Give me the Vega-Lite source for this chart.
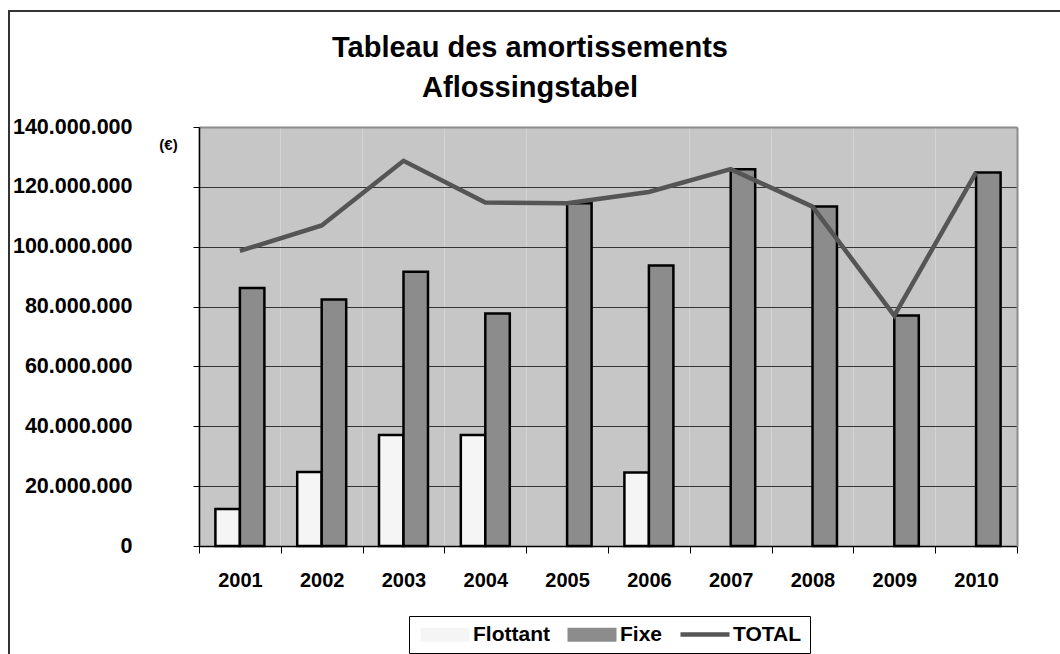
{
  "$schema": "https://vega.github.io/schema/vega-lite/v6.json",
  "width": 1100,
  "height": 651,
  "autosize": {"type": "none"},
  "padding": {"left": 9, "top": 11, "right": -49, "bottom": -8},
  "background": "white",
  "title": {
    "text": ["Tableau des amortissements", "Aflossingstabel"],
    "font": "Liberation Sans",
    "fontSize": 29,
    "fontWeight": "bold",
    "color": "black",
    "anchor": "middle",
    "frame": "group",
    "dx": -29,
    "offset": -114.5,
    "baseline": "alphabetic",
    "lineHeight": 39.5
  },
  "datasets": {
    "bars": [
      {"year": "2001", "series": "Flottant", "value": 12400000},
      {"year": "2001", "series": "Fixe", "value": 86200000},
      {"year": "2002", "series": "Flottant", "value": 24700000},
      {"year": "2002", "series": "Fixe", "value": 82400000},
      {"year": "2003", "series": "Flottant", "value": 37100000},
      {"year": "2003", "series": "Fixe", "value": 91600000},
      {"year": "2004", "series": "Flottant", "value": 37100000},
      {"year": "2004", "series": "Fixe", "value": 77700000},
      {"year": "2005", "series": "Flottant", "value": 0},
      {"year": "2005", "series": "Fixe", "value": 114500000},
      {"year": "2006", "series": "Flottant", "value": 24600000},
      {"year": "2006", "series": "Fixe", "value": 93700000},
      {"year": "2007", "series": "Flottant", "value": 0},
      {"year": "2007", "series": "Fixe", "value": 125900000},
      {"year": "2008", "series": "Flottant", "value": 0},
      {"year": "2008", "series": "Fixe", "value": 113400000},
      {"year": "2009", "series": "Flottant", "value": 0},
      {"year": "2009", "series": "Fixe", "value": 77000000},
      {"year": "2010", "series": "Flottant", "value": 0},
      {"year": "2010", "series": "Fixe", "value": 124800000}
    ],
    "totals": [
      {"year": "2001", "total": 98600000},
      {"year": "2002", "total": 107100000},
      {"year": "2003", "total": 128700000},
      {"year": "2004", "total": 114800000},
      {"year": "2005", "total": 114500000},
      {"year": "2006", "total": 118300000},
      {"year": "2007", "total": 125900000},
      {"year": "2008", "total": 113400000},
      {"year": "2009", "total": 77000000},
      {"year": "2010", "total": 124800000}
    ]
  },
  "layer": [
    {
      "data": {"name": "bars"},
      "transform": [{"filter": "datum.value > 0"}],
      "mark": {"type": "bar", "stroke": "black", "strokeWidth": 2.5},
      "encoding": {
        "x": {
          "field": "year",
          "type": "nominal",
          "scale": {"range": [190, 1008], "paddingInner": 0, "paddingOuter": 0},
          "axis": {
            "orient": "bottom",
            "offset": -116,
            "tickBand": "extent",
            "grid": false,
            "tickSize": 7,
            "tickColor": "black",
            "tickWidth": 1,
            "domainColor": "black",
            "domainWidth": 1.5,
            "labelAngle": 0,
            "labelFontSize": 20,
            "labelFontWeight": "bold",
            "labelColor": "black",
            "labelPadding": 17,
            "title": null
          }
        },
        "xOffset": {
          "field": "series",
          "type": "nominal",
          "scale": {"domain": ["Flottant", "Fixe"], "paddingInner": 0, "paddingOuter": 0.67}
        },
        "y": {
          "field": "value",
          "type": "quantitative",
          "scale": {"domain": [0, 140000000], "range": [535, 116], "nice": false},
          "axis": {
            "orient": "left",
            "offset": -190,
            "values": [0, 20000000, 40000000, 60000000, 80000000, 100000000, 120000000, 140000000],
            "format": ",.0f",
            "grid": true,
            "gridColor": {"condition": {"test": "datum.value >= 140000000", "value": "#8c8c8c"}, "value": "#333333"},
            "gridWidth": {"condition": {"test": "datum.value >= 140000000", "value": 2}, "value": 1},
            "tickSize": 6,
            "tickColor": "black",
            "domainColor": "black",
            "domainWidth": 1.5,
            "labelFontSize": 21.5,
            "labelFontWeight": "bold",
            "labelColor": "black",
            "labelPadding": 61,
            "labelFlush": false,
            "title": "(€)",
            "titleAngle": 0,
            "titleX": -31,
            "titleY": 133,
            "titleAlign": "center",
            "titleBaseline": "middle",
            "titleFontSize": 15,
            "titleFontWeight": "bold",
            "titleColor": "black"
          }
        },
        "fill": {
          "field": "series",
          "type": "nominal",
          "scale": {"domain": ["Flottant", "Fixe", "TOTAL"], "range": ["#f5f5f5", "#8c8c8c", "rgba(0,0,0,0)"]},
          "legend": {
            "title": null,
            "orient": "none",
            "legendX": 400,
            "legendY": 605,
            "direction": "horizontal",
            "strokeColor": "black",
            "fillColor": "white",
            "padding": 8,
            "symbolSize": 196,
            "symbolType": "M-1,-1H6V1H-1Z",
            "symbolStrokeWidth": 0,
            "symbolStrokeColor": "transparent",
            "symbolOpacity": 1,
            "labelOffset": 35,
            "columnPadding": 14,
            "labelFontSize": 21,
            "labelFontWeight": "bold",
            "labelColor": "black"
          }
        }
      }
    },
    {
      "data": {"name": "totals"},
      "mark": {"type": "line", "strokeWidth": 4.5},
      "encoding": {
        "x": {
          "field": "year",
          "type": "nominal",
          "axis": {
            "orient": "bottom",
            "offset": -116,
            "grid": true,
            "gridColor": "#c6c6c6",
            "gridWidth": 82,
            "gridOpacity": 1,
            "domain": false,
            "ticks": false,
            "labels": false,
            "title": null
          }
        },
        "y": {
          "field": "total",
          "type": "quantitative",
          "axis": {
            "orient": "right",
            "offset": -92,
            "grid": false,
            "ticks": false,
            "labels": false,
            "domainColor": "#8c8c8c",
            "domainWidth": 2,
            "title": null
          }
        },
        "stroke": {
          "datum": "TOTAL",
          "type": "nominal",
          "scale": {"domain": ["TOTAL"], "range": ["#555555"]},
          "legend": {
            "title": null,
            "orient": "none",
            "legendX": 660,
            "legendY": 605,
            "padding": 8,
            "strokeColor": null,
            "fillColor": null,
            "symbolSize": 196,
            "symbolType": "M-1,0H6",
            "symbolStrokeWidth": 4.5,
            "symbolOpacity": 1,
            "labelExpr": "''",
            "labelFontSize": 21,
            "labelFontWeight": "bold"
          }
        }
      }
    }
  ],
  "resolve": {"axis": {"x": "independent", "y": "independent"}},
  "config": {
    "font": "Liberation Sans",
    "locale": {"number": {"decimal": ",", "thousands": ".", "grouping": [3], "currency": ["", " €"]}},
    "view": {"stroke": "#333333", "strokeWidth": 2}
  }
}
